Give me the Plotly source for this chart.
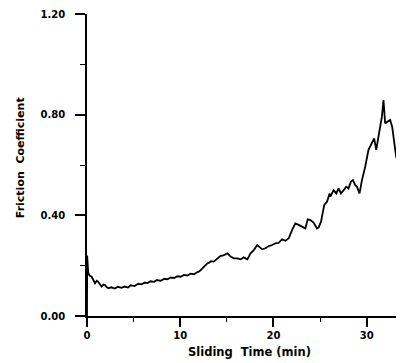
import plotly.graph_objects as go

time_min = [0.0, 0.02, 0.08, 0.14, 0.3, 0.5, 0.7, 0.86, 1.05, 1.2, 1.4, 1.57, 1.75, 1.93, 2.1, 2.3,
            2.6, 3.0, 3.3, 3.7, 4.0, 4.4, 4.7, 5.1, 5.5, 5.85, 6.2, 6.49, 6.8, 7.2, 7.5, 7.9,
            8.3, 8.63, 9.0, 9.34, 9.7, 10.05, 10.4, 10.77, 11.1, 11.48, 11.8, 12.0, 12.3, 12.55,
            12.9, 13.1, 13.3, 13.6, 14.0, 14.3, 14.7, 15.05, 15.4, 15.75, 16.1, 16.5, 16.8, 17.2,
            17.54, 17.89, 18.26, 18.53, 18.79, 19.14, 19.5, 19.86, 20.21, 20.57, 20.93, 21.28,
            21.64, 22.0, 22.35, 22.7, 23.07, 23.42, 23.67, 23.96, 24.3, 24.67, 24.85, 25.1, 25.3,
            25.45, 25.74, 26.02, 26.1, 26.45, 26.74, 26.98, 27.24, 27.52, 27.81, 28.05, 28.31,
            28.52, 28.77, 28.95, 29.23, 29.49, 29.84, 30.19, 30.56, 30.8, 31.02, 31.26, 31.44,
            31.63, 31.8, 31.98, 32.22, 32.51, 32.73, 32.94, 33.16, 33.37, 33.58, 33.76, 34.0]
friction = [0.00, 0.24, 0.20, 0.17, 0.16, 0.156, 0.14, 0.13, 0.14, 0.136, 0.125, 0.117, 0.125, 0.123,
            0.115, 0.11, 0.114, 0.109, 0.116, 0.112, 0.117, 0.113, 0.122, 0.119, 0.128, 0.126, 0.133,
            0.131, 0.138, 0.136, 0.143, 0.140, 0.148, 0.146, 0.153, 0.151, 0.158, 0.156, 0.163,
            0.161, 0.168, 0.166, 0.174, 0.176, 0.186, 0.196, 0.209, 0.212, 0.218, 0.216, 0.229,
            0.238, 0.242, 0.249, 0.236, 0.229, 0.229, 0.225, 0.233, 0.225,
            0.249, 0.262, 0.282, 0.273, 0.265, 0.269, 0.278, 0.282, 0.289, 0.291, 0.305, 0.299,
            0.309, 0.342, 0.368, 0.362, 0.355, 0.348, 0.384, 0.381, 0.371, 0.348, 0.352, 0.375,
            0.414, 0.441, 0.454, 0.487, 0.474, 0.50, 0.487, 0.507, 0.487, 0.50, 0.514, 0.507,
            0.534, 0.54, 0.52, 0.514, 0.487, 0.54, 0.593, 0.66, 0.692, 0.706, 0.66, 0.712, 0.745,
            0.792, 0.858, 0.765, 0.772, 0.779, 0.752, 0.70, 0.633, 0.613, 0.587, 0.633, 0.567]

x_ticks = [0, 10, 20, 30]
y_ticks = [0.0, 0.4, 0.8, 1.2]
y_tick_labels = ["0.00", "0.40", "0.80", "1.20"]

FONT = "DejaVu Sans"

fig = go.Figure()
fig.add_trace(go.Scatter(x=time_min, y=friction, mode="lines",
                         line=dict(color="black", width=1.8), showlegend=False))

# The page body adds an 8px offset; the figure is sized so the plot area lands
# at x 87..404, y 14..316 in the 404x363 window.
fig.update_layout(
    width=396, height=355,
    margin=dict(l=79, r=0, t=6, b=47),
    paper_bgcolor="white", plot_bgcolor="white",
    font=dict(family=FONT, color="black", size=10, weight="bold"),
    xaxis=dict(range=[0, 34], tickvals=x_ticks, ticktext=[str(v) for v in x_ticks],
               showgrid=False, zeroline=False, showline=True, linecolor="black", linewidth=1.5,
               ticks="outside", ticklen=9, tickwidth=1.5, tickcolor="black",
               tickfont=dict(family=FONT, size=10, weight="bold"),
               minor=dict(dtick=5, tick0=0, ticks="outside", ticklen=4, tickwidth=1.2, tickcolor="black")),
    yaxis=dict(range=[0, 1.2], tickvals=y_ticks, ticktext=y_tick_labels,
               showgrid=False, zeroline=False, showline=True, linecolor="black", linewidth=1.5,
               ticks="outside", ticklen=10, tickwidth=1.5, tickcolor="black",
               ticklabelstandoff=8,
               tickfont=dict(family=FONT, size=10, weight="bold"),
               minor=dict(dtick=0.2, tick0=0, ticks="outside", ticklen=5, tickwidth=1.2, tickcolor="black")),
    annotations=[
        dict(text="Sliding  Time (min)", xref="paper", yref="paper", x=0.514, y=-0.119,
             xanchor="center", yanchor="middle", showarrow=False,
             font=dict(family=FONT, size=11.5, weight="bold", color="black")),
        dict(text="Friction  Coefficient", xref="paper", yref="paper", x=-0.211, y=0.523,
             xanchor="center", yanchor="middle", showarrow=False, textangle=-90,
             font=dict(family=FONT, size=11, weight="bold", color="black")),
    ],
)

fig.write_html("out.html")
